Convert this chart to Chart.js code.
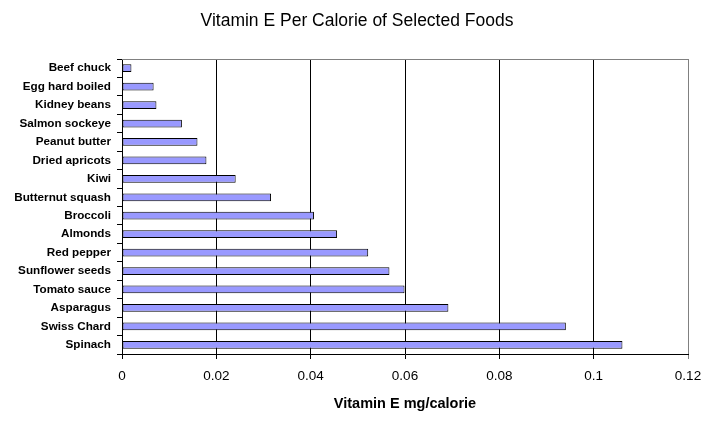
<!DOCTYPE html>
<html>
<head>
<meta charset="utf-8">
<script src="https://cdn.jsdelivr.net/npm/chart.js@4"></script>
<style>
  html, body { margin: 0; padding: 0; background: #ffffff; }
  #wrap { width: 714px; height: 430px; }
</style>
</head>
<body>
<div id="wrap"><canvas id="c" width="714" height="430"></canvas></div>
<script>
const categories = [
  "Beef chuck", "Egg hard boiled", "Kidney beans", "Salmon sockeye",
  "Peanut butter", "Dried apricots", "Kiwi", "Butternut squash",
  "Broccoli", "Almonds", "Red pepper", "Sunflower seeds",
  "Tomato sauce", "Asparagus", "Swiss Chard", "Spinach"
];
const vitaminE = [
  0.0020, 0.0067, 0.0073, 0.0127,
  0.0160, 0.0179, 0.0241, 0.0316,
  0.0407, 0.0456, 0.0522, 0.0567,
  0.0599, 0.0692, 0.0941, 0.1061
];
const xTicks = [0, 0.02, 0.04, 0.06, 0.08, 0.1, 0.12];
const titleText = "Vitamin E Per Calorie of Selected Foods";
const xAxisTitle = "Vitamin E mg/calorie";

const FONT = "'Liberation Sans', Arial, sans-serif";

const plotBorder = {
  id: 'plotBorder',
  beforeDatasetsDraw(chart) {
    const { ctx, chartArea: a } = chart;
    ctx.save();
    ctx.strokeStyle = '#808080';
    ctx.lineWidth = 1;
    ctx.beginPath();
    ctx.moveTo(a.left, a.top + 0.5);
    ctx.lineTo(a.right, a.top + 0.5);
    ctx.stroke();
    ctx.restore();
  }
};

new Chart(document.getElementById('c'), {
  type: 'bar',
  data: {
    labels: categories,
    datasets: [{
      data: vitaminE,
      backgroundColor: '#9999FF',
      borderColor: '#000000',
      borderWidth: 1,
      borderSkipped: false,
      barPercentage: 0.42,
      categoryPercentage: 1.0
    }]
  },
  options: {
    indexAxis: 'y',
    responsive: false,
    animation: false,
    devicePixelRatio: 1,
    layout: { padding: { left: 0, right: 0, top: 0, bottom: 0 } },
    plugins: {
      legend: { display: false },
      tooltip: { enabled: false },
      title: {
        display: true,
        text: titleText,
        color: '#000000',
        font: { family: FONT, size: 17.5, weight: 'normal' },
        padding: { top: 11, bottom: 27 }
      }
    },
    scales: {
      x: {
        type: 'linear',
        min: 0,
        max: 0.12,
        afterBuildTicks(scale) {
          scale.ticks = xTicks.map(v => ({ value: v }));
        },
        afterFit(scale) { scale.height = 76; },
        ticks: {
          color: '#000000',
          font: { family: FONT, size: 13.5 },
          padding: 9,
          callback: (v) => String(v)
        },
        grid: {
          color: (ctx) => ctx.index === xTicks.length - 1 ? '#808080' : '#000000',
          lineWidth: 1,
          tickLength: 5,
          drawTicks: true
        },
        border: { color: '#000000', width: 1 },
        title: {
          display: true,
          text: xAxisTitle,
          color: '#000000',
          font: { family: FONT, size: 14.5, weight: 'bold' },
          padding: { top: 0, bottom: 17 }
        }
      },
      y: {
        type: 'category',
        afterFit(scale) { scale.width = 122; },
        ticks: {
          color: '#000000',
          font: { family: FONT, size: 11.7, weight: 'bold' },
          padding: 6,
          autoSkip: false
        },
        grid: {
          offset: true,
          drawOnChartArea: false,
          drawTicks: true,
          tickLength: 5,
          color: '#000000'
        },
        border: { color: '#000000', width: 1 }
      },
      yRightMargin: {
        type: 'category',
        axis: 'y',
        position: 'right',
        display: true,
        afterFit(scale) { scale.width = 26; },
        ticks: { display: false },
        grid: { display: false },
        border: { display: false }
      }
    }
  },
  plugins: [plotBorder]
});
</script>
</body>
</html>
